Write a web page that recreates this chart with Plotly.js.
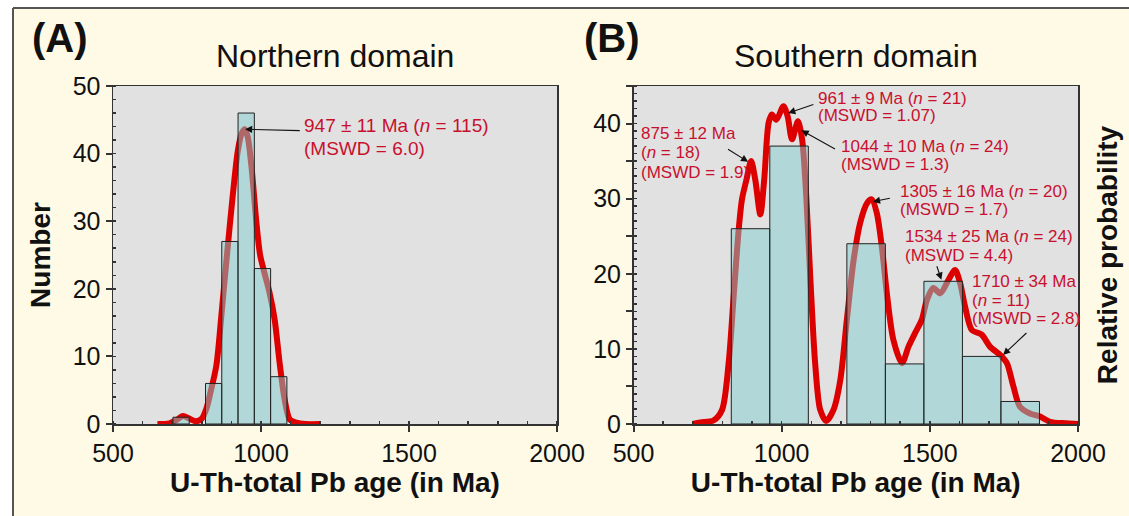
<!DOCTYPE html>
<html>
<head>
<meta charset="utf-8">
<script src="https://cdn.plot.ly/plotly-3.0.1.min.js"></script>
<style>
  html, body { margin: 0; padding: 0; background: #ffffff; }
  #chart { width: 1129px; height: 516px; }
</style>
</head>
<body>
<div id="chart"></div>
<script>
// ---------- Panel A: Northern domain ----------
const northBinCenters = [730, 840, 895, 950, 1005, 1060];
const northBinCounts  = [1, 6, 27, 46, 23, 7];
const northBinWidth   = 55;
const northCurveAge   = [650, 690, 715, 736, 758, 780, 800, 815, 830, 849, 866, 885, 905, 922, 935, 945, 955, 968, 984, 997, 1012, 1029, 1046, 1063, 1080, 1097, 1119, 1150, 1200];
const northCurveProb  = [0, 0.1, 0.6, 1.2, 0.8, 0.4, 0.8, 2.2, 4.8, 8.6, 16, 25, 34, 40.5, 43, 43.6, 42.5, 38, 30, 25, 22.3, 19.4, 15.5, 9, 3.6, 0.7, 0.2, 0, 0];

// ---------- Panel B: Southern domain ----------
const southBinCenters = [895, 1025, 1285, 1415, 1545, 1675, 1805];
const southBinCounts  = [26, 37, 24, 8, 19, 9, 3];
const southBinWidth   = 130;
const southCurveAge   = [700, 726, 771, 799, 821, 838, 855, 866, 881, 897, 911, 928, 941, 956, 967, 982, 1006, 1020, 1035, 1055, 1069, 1083, 1097, 1113, 1130, 1150, 1175, 1198, 1220, 1243, 1265, 1288, 1304, 1321, 1338, 1355, 1377, 1406, 1428, 1450, 1473, 1490, 1512, 1535, 1563, 1585, 1602, 1619, 1642, 1675, 1703, 1737, 1760, 1782, 1804, 1838, 1872, 1905, 1962, 2000];
const southCurveProb  = [0, 0.2, 0.5, 1.9, 8.1, 17, 25.9, 29.9, 32.5, 35, 32.5, 27.9, 32.5, 40.1, 41.2, 40.5, 42.3, 41, 37.9, 40.3, 37.9, 30.3, 19.2, 8.1, 1.9, 0.4, 1.9, 5.9, 13.9, 21.9, 26.8, 29.4, 29.9, 28.1, 23.6, 17.4, 11.2, 8.1, 10.3, 12.1, 13.9, 16.5, 18.1, 17.4, 19.2, 20.5, 18.8, 15.6, 12.5, 11.9, 10.3, 9.2, 8.1, 5, 2.3, 1.4, 1.0, 0.3, 0.1, 0];

// ---------- Labels ----------
const panelTitles   = ['Northern domain', 'Southern domain'];
const panelLetters  = ['(A)', '(B)'];
const xAxisTitle    = 'U-Th-total Pb age (in Ma)';
const yAxisTitleA   = 'Number';
const yAxisTitleB   = 'Relative probability';
const xTickVals     = [500, 1000, 1500, 2000];
const yTickValsA    = [0, 10, 20, 30, 40, 50];
const yTickValsB    = [0, 5, 10, 15, 20, 25, 30, 35, 40, 45];
const yTickTextB    = ['0', '', '10', '', '20', '', '30', '', '40', ''];

const northAgeLines = ['947 ± 11 Ma (<i>n</i> = 115)', '(MSWD = 6.0)'];
const southAgeLines = [
  ['875 ± 12 Ma', '(<i>n</i> = 18)', '(MSWD = 1.9)'],
  ['961 ± 9 Ma (<i>n</i> = 21)', '(MSWD = 1.07)'],
  ['1044 ± 10 Ma (<i>n</i> = 24)', '(MSWD = 1.3)'],
  ['1305 ± 16 Ma (<i>n</i> = 20)', '(MSWD = 1.7)'],
  ['1534 ± 25 Ma (<i>n</i> = 24)', '(MSWD = 4.4)'],
  ['1710 ± 34 Ma', '(<i>n</i> = 11)', '(MSWD = 2.8)']
];

// ---------- Styles / geometry helpers ----------
const FONT = 'Liberation Sans, Arial, Helvetica, sans-serif';
const CREAM = '#fffae6';
const PLOTBG = '#e1e1e1';
const CURVE = '#dd0000';
const BARFILL = 'rgba(130,205,207,0.5)';
const TEXTRED = '#c8102e';
const AXIS = '#333333';
const W = 1129, H = 516, ML = 113, MR = 51, MT = 86, MB = 92;
const PW = W - ML - MR, PH = H - MT - MB;
const px = X => (X - ML) / PW;          // pixel -> paper x
const py = Y => (H - MB - Y) / PH;      // pixel -> paper y

const traces = [
  { type: 'scatter', mode: 'lines', x: northCurveAge, y: northCurveProb, xaxis: 'x', yaxis: 'y',
    line: { color: CURVE, width: 6, shape: 'spline', smoothing: 0.8 }, hoverinfo: 'skip' },
  { type: 'bar', x: northBinCenters, y: northBinCounts, width: northBinWidth, xaxis: 'x', yaxis: 'y2',
    marker: { color: BARFILL, line: { color: '#222222', width: 1 } }, hoverinfo: 'skip' },
  { type: 'scatter', mode: 'lines', x: southCurveAge, y: southCurveProb, xaxis: 'x2', yaxis: 'y3',
    line: { color: CURVE, width: 6, shape: 'spline', smoothing: 0.8 }, hoverinfo: 'skip' },
  { type: 'bar', x: southBinCenters, y: southBinCounts, width: southBinWidth, xaxis: 'x2', yaxis: 'y4',
    marker: { color: BARFILL, line: { color: '#222222', width: 1 } }, hoverinfo: 'skip' }
];

function xAxis(domain, anchor) {
  return {
    domain: domain, anchor: anchor, range: [500, 2000], tickvals: xTickVals,
    ticks: 'outside', ticklen: 6, tickwidth: 2, tickcolor: AXIS,
    minor: { dtick: 100, ticks: 'inside', ticklen: 3, tickwidth: 1.5, tickcolor: AXIS },
    showline: true, linecolor: AXIS, linewidth: 1.5, mirror: true,
    showgrid: false, zeroline: false,
    tickfont: { family: FONT, size: 25, color: '#111' },
    title: { text: xAxisTitle, font: { family: FONT, size: 28, color: '#111', weight: 'bold' }, standoff: 7 }
  };
}

const annotations = [];
annotations.push({ xref: 'x domain', yref: 'paper', x: 0.5, y: py(56), text: panelTitles[0], showarrow: false,
  xanchor: 'center', yanchor: 'middle', font: { family: FONT, size: 32, color: '#111' } });
annotations.push({ xref: 'x2 domain', yref: 'paper', x: 0.5, y: py(56), text: panelTitles[1], showarrow: false,
  xanchor: 'center', yanchor: 'middle', font: { family: FONT, size: 32, color: '#111' } });
annotations.push({ xref: 'paper', yref: 'paper', x: px(59.5), y: py(38), text: panelLetters[0], showarrow: false,
  xanchor: 'center', yanchor: 'middle', font: { family: FONT, size: 40, color: '#111', weight: 'bold' } });
annotations.push({ xref: 'paper', yref: 'paper', x: px(612), y: py(38), text: panelLetters[1], showarrow: false,
  xanchor: 'center', yanchor: 'middle', font: { family: FONT, size: 40, color: '#111', weight: 'bold' } });

function addLines(lines, xr, yr, xLeft, yVals, size) {
  lines.forEach((t, i) => annotations.push({
    xref: xr, yref: yr, x: xLeft, y: yVals[i], text: t, showarrow: false,
    xanchor: 'left', yanchor: 'middle', font: { family: FONT, size: size, color: TEXTRED }
  }));
}
function addArrow(xr, yr, tail, head) {
  annotations.push({
    xref: xr, yref: yr, axref: xr, ayref: yr, x: head[0], y: head[1], ax: tail[0], ay: tail[1],
    text: '', showarrow: true, arrowhead: 2, arrowsize: 1.3, arrowwidth: 1.1, arrowcolor: '#111', standoff: 0, startstandoff: 0
  });
}
addLines(northAgeLines, 'x', 'y', 1140, [44.2, 40.8], 19);
addArrow('x', 'y', [1136, 43.4], [946, 43.6]);

const southLabelPos = [
  [520, [38.7, 36.1, 33.5]],
  [1116, [43.4, 41.1]],
  [1192, [36.9, 34.5]],
  [1391, [30.9, 28.6]],
  [1408, [25.0, 22.4]],
  [1635, [19.0, 16.4, 14.0]]
];
southAgeLines.forEach((lines, i) => addLines(lines, 'x2', 'y3', southLabelPos[i][0], southLabelPos[i][1], 17));
const southArrows = [
  [[814, 36.7], [887, 34.9]],
  [[1112, 42.6], [1022, 41.4]],
  [[1185, 36.5], [1067, 39.1]],
  [[1370, 30.1], [1308, 29.6]],
  [[1522, 21.2], [1539, 19.2]],
  [[1831, 12.3], [1747, 9.2]]
];
southArrows.forEach(a => addArrow('x2', 'y3', a[0], a[1]));

const layout = {
  width: W, height: H,
  margin: { l: ML, r: MR, t: MT, b: MB },
  paper_bgcolor: CREAM, plot_bgcolor: PLOTBG,
  showlegend: false, barmode: 'overlay', hovermode: false,
  font: { family: FONT, color: '#111' },
  xaxis: xAxis([0, 444 / PW], 'y'),
  xaxis2: xAxis([520.5 / PW, 1], 'y3'),
  yaxis: {
    domain: [0, 1], anchor: 'x', range: [0, 50], tickvals: yTickValsA,
    ticks: 'outside', ticklen: 6, tickwidth: 2, tickcolor: AXIS,
    minor: { dtick: 2, ticks: 'inside', ticklen: 3, tickwidth: 1.5, tickcolor: AXIS },
    showline: true, linecolor: AXIS, linewidth: 1.5, mirror: true,
    showgrid: false, zeroline: false,
    tickfont: { family: FONT, size: 25, color: '#111' },
    title: { text: yAxisTitleA, font: { family: FONT, size: 28, color: '#111', weight: 'bold' }, standoff: 14 }
  },
  yaxis2: { overlaying: 'y', anchor: 'x', range: [0, 50], visible: false, showgrid: false, zeroline: false },
  yaxis3: {
    domain: [0, 1], anchor: 'x2', range: [0, 45], tickvals: yTickValsB, ticktext: yTickTextB,
    ticks: 'outside', ticklen: 6, tickwidth: 2, tickcolor: AXIS,
    minor: { dtick: 1, ticks: 'inside', ticklen: 3, tickwidth: 1.5, tickcolor: AXIS },
    showline: true, linecolor: AXIS, linewidth: 1.5, mirror: true,
    showgrid: false, zeroline: false,
    tickfont: { family: FONT, size: 25, color: '#111' }
  },
  yaxis4: {
    overlaying: 'y3', anchor: 'x2', side: 'right', range: [0, 45],
    showticklabels: false, ticks: '', showline: false, showgrid: false, zeroline: false,
    title: { text: yAxisTitleB, font: { family: FONT, size: 28, color: '#111', weight: 'bold' }, standoff: 19 }
  },
  shapes: [
    { type: 'rect', xref: 'paper', yref: 'paper', x0: -0.5, x1: px(13), y0: -0.5, y1: 1.5, fillcolor: '#ffffff', line: { width: 0 }, layer: 'below' },
    { type: 'rect', xref: 'paper', yref: 'paper', x0: -0.5, x1: 1.5, y0: py(8), y1: 1.5, fillcolor: '#ffffff', line: { width: 0 }, layer: 'below' },
    { type: 'line', xref: 'paper', yref: 'paper', x0: px(13), x1: px(13), y0: -0.5, y1: py(8), line: { color: '#555555', width: 2 } },
    { type: 'line', xref: 'paper', yref: 'paper', x0: px(13), x1: 1.5, y0: py(8), y1: py(8), line: { color: '#555555', width: 2 } }
  ],
  annotations: annotations
};

Plotly.newPlot('chart', traces, layout, { staticPlot: true, displayModeBar: false });
</script>
</body>
</html>
